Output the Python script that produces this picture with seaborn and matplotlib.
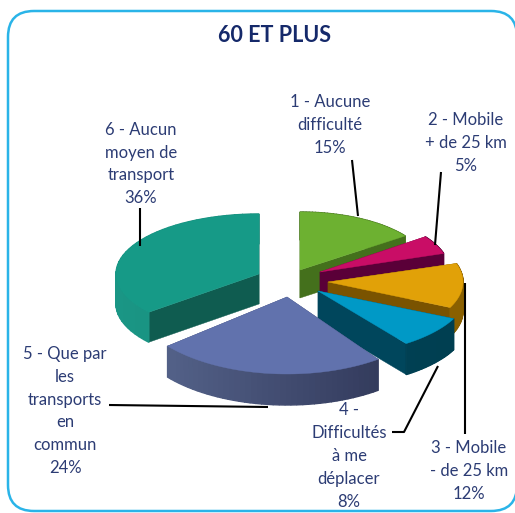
import numpy as np
import matplotlib
matplotlib.use("Agg")
import matplotlib.pyplot as plt
import matplotlib.colors as mc
from matplotlib.patches import FancyBboxPatch
import seaborn as sns

# ---- data ----
categories = ["1 - Aucune\ndifficulté", "2 - Mobile\n+ de 25 km", "3 - Mobile\n- de 25 km",
              "4 -\nDifficultés\nà me\ndéplacer", "5 - Que par\nles\ntransports\nen\ncommun",
              "6 - Aucun\nmoyen de\ntransport"]
values = [15, 5, 12, 8, 24, 36]
title = "60 ET PLUS"

# ---- styles ----
top_colors = ["#6DB131", "#C90D66", "#E1A108", "#0099C6", "#6172AD", "#169A87"]
cut_colors = ["#44701C", "#5A0038", "#7A5300", "#00465C", "#3A4470", "#0F5C50"]
rim_left = ["#44701C", "#5A0038", "#96690A", "#004A5E", "#58678F", "#1A9685"]
rim_right = ["#44701C", "#5A0038", "#8A6000", "#003E50", "#2A3050", "#14806F"]
TEXT = "#2C3C74"

# ---- layout, in pixels: apex x, apex y, radius x, radius y, depth ----
geometry = [(300, 270, 130, 58, 28), (320, 272, 130, 60, 28), (328, 282, 135, 60, 29),
            (318, 291, 150, 65, 31), (287, 297, 155, 77, 31), (259, 274, 143, 60, 30)]
draw_order = [5, 0, 1, 2, 3, 4]
label_pos = [(330, 125), (466, 143), (469, 471), (349, 456), (65, 411), (141, 164)]
leaders = [[(352, 160), (358, 216)], [(441, 172), (435, 245)], [(465, 283), (465, 434)],
           [(392, 432), (404, 432), (438, 366)], [(109, 405), (268, 407)], [(140, 208), (140, 246)]]

sns.set_theme(style="white")
plt.rcParams["font.family"] = ["Lato", "DejaVu Sans"]
fig = plt.figure(figsize=(5.15, 5.13), dpi=100, facecolor="white")
ax = fig.add_axes([0, 0, 1, 1])
ax.set_xlim(0, 515)
ax.set_ylim(513, 0)
ax.axis("off")

ax.add_patch(FancyBboxPatch((8 + 26, 11 + 26), 509 - 52, 500 - 52, boxstyle="round,pad=26,rounding_size=26",
                            fc="white", ec="#2AB4E8", lw=1.8, clip_on=False))

palette_top = sns.color_palette(top_colors)
edges = 360 * np.cumsum([0] + values) / sum(values)


def arc(i, a0, a1, n=60, dy=0):
    cx, cy, rx, ry, _ = geometry[i]
    t = np.radians(np.linspace(a0, a1, n))
    return cx + rx * np.sin(t), cy - ry * np.cos(t) + dy


for order, i in enumerate(draw_order):
    cx, cy, rx, ry, d = geometry[i]
    a0, a1 = edges[i], edges[i + 1]
    z = 1 + order * 0.1
    # cut faces
    for a in (a0, a1):
        x, y = arc(i, a, a, 1)
        ax.fill([cx, x[0], x[0], cx], [cy, y[0], y[0] + d, cy + d],
                color=cut_colors[i], lw=0.3, zorder=z)
    # rim, as narrow shaded strips
    n = 40
    ang = np.linspace(a0, a1, n + 1)
    for k in range(n):
        x, y = arc(i, ang[k], ang[k + 1], 4)
        xs = np.r_[x, x[::-1]]
        ys = np.r_[y, y[::-1] + d]
        x_mid = cx + rx * np.sin(np.radians((ang[k] + ang[k + 1]) / 2))
        f = np.clip((x_mid - (cx - rx)) / (2 * rx), 0, 1)
        col = (1 - f) * np.array(mc.to_rgb(rim_left[i])) + f * np.array(mc.to_rgb(rim_right[i]))
        ax.fill(xs, ys, color=col, lw=1.0, zorder=z)
    # top
    x, y = arc(i, a0, a1)
    ax.fill(np.r_[cx, x], np.r_[cy, y], color=palette_top[i], lw=0.3, zorder=z)

for pts in leaders:
    xs, ys = zip(*pts)
    ax.plot(xs, ys, color="black", lw=1.5, zorder=5, solid_capstyle="butt")

for cat, v, (x, y) in zip(categories, values, label_pos):
    ax.text(x, y, f"{cat}\n{v}%", ha="center", va="center", fontsize=12,
            color=TEXT, linespacing=1.52, zorder=6)

ax.text(275, 35, title, ha="center", va="center", fontsize=15.5, fontweight="bold", color="#15296A", zorder=6)

fig.savefig("out.png", dpi=100)
